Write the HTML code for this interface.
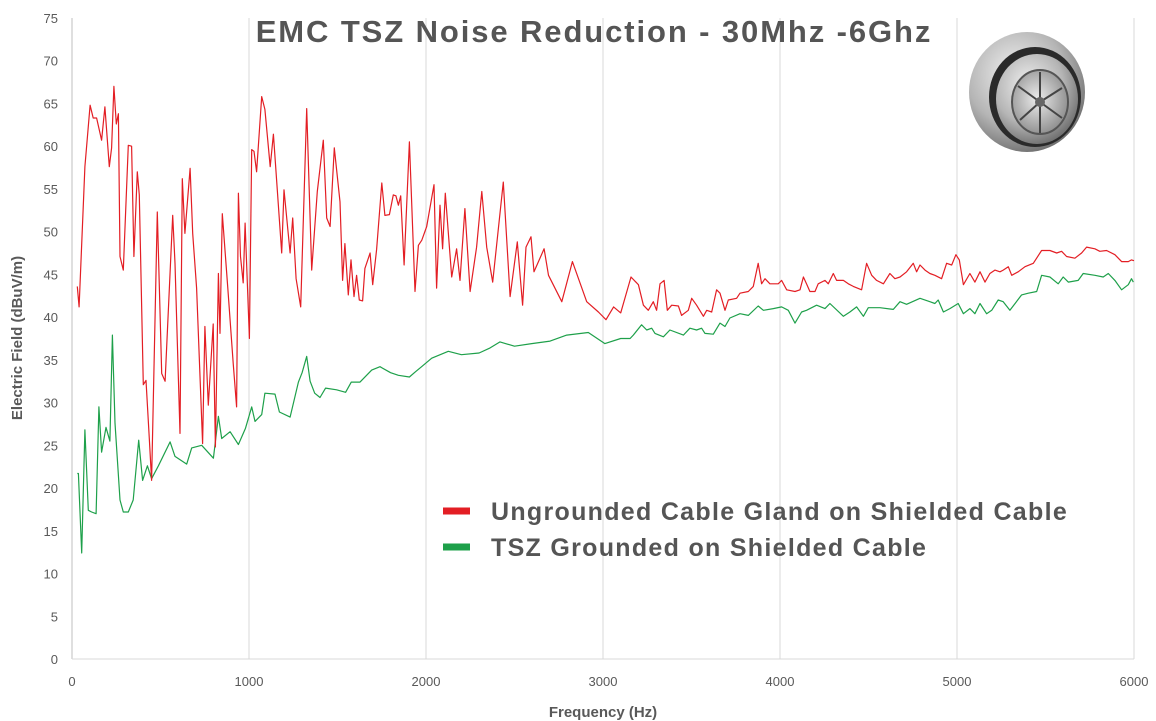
<!DOCTYPE html>
<html><head><meta charset="utf-8"><style>
body{margin:0;background:#fff;}
svg{display:block;font-family:"Liberation Sans",sans-serif;}
</style></head><body>
<svg id="chart" width="1156" height="721" viewBox="0 0 1156 721" xmlns="http://www.w3.org/2000/svg">
<defs>
<radialGradient id="metal" cx="40%" cy="35%" r="70%"><stop offset="0" stop-color="#f2f2f2"/><stop offset="0.6" stop-color="#b5b5b5"/><stop offset="1" stop-color="#6a6a6a"/></radialGradient>
<radialGradient id="inner" cx="45%" cy="45%" r="60%"><stop offset="0" stop-color="#ececec"/><stop offset="1" stop-color="#8a8a8a"/></radialGradient>
</defs>
<g id="grid"></g>
<g id="yticks"></g>
<g id="xticks"></g>
<g id="series"></g>
<text x="594" y="42" text-anchor="middle" font-size="31" font-weight="bold" fill="#555" letter-spacing="1.9">EMC TSZ Noise Reduction - 30Mhz -6Ghz</text>
<text transform="translate(22,338) rotate(-90)" text-anchor="middle" font-size="15" font-weight="bold" fill="#595959">Electric Field (dBuV/m)</text>
<text x="603" y="717" text-anchor="middle" font-size="15" font-weight="bold" fill="#595959">Frequency (Hz)</text>
<g>
<g>
<line x1="443" y1="511" x2="470" y2="511" stroke="#e31e24" stroke-width="7"/>
<text x="491" y="520" font-size="25" font-weight="bold" fill="#555" letter-spacing="1.3">Ungrounded Cable Gland on Shielded Cable</text></g>
<g>
<line x1="443" y1="547" x2="470" y2="547" stroke="#1ea04a" stroke-width="7"/>
<text x="491" y="556" font-size="25" font-weight="bold" fill="#555" letter-spacing="1.3">TSZ Grounded on Shielded Cable</text></g>
</g>
<g>
<ellipse cx="1027" cy="92" rx="58" ry="60" fill="url(#metal)"/>
<ellipse cx="1035" cy="97" rx="46" ry="50" fill="#2a2a2a"/>
<ellipse cx="1037" cy="99" rx="41" ry="45" fill="url(#metal)"/>
<ellipse cx="1040" cy="102" rx="28" ry="32" fill="url(#inner)" stroke="#555" stroke-width="2"/>
<g stroke="#444" stroke-width="2">
<line x1="1040" y1="102" x2="1040" y2="72"/><line x1="1040" y1="102" x2="1062" y2="88"/><line x1="1040" y1="102" x2="1062" y2="118"/><line x1="1040" y1="102" x2="1040" y2="133"/><line x1="1040" y1="102" x2="1020" y2="120"/><line x1="1040" y1="102" x2="1018" y2="86"/></g>
<circle cx="1040" cy="102" r="5" fill="#666"/>
</g>
</svg>
<script>
const yTicks=[0,5,10,15,20,25,30,35,40,45,50,55,60,65,70,75];
const xTicks=[0,1000,2000,3000,4000,5000,6000];
const redFreq=[30,40,73,102,120,139,167,186,211,224,237,250,262,271,290,318,337,350,369,380,403,418,437,450,482,507,526,569,582,610,623,638,667,682,704,738,751,770,798,810,827,836,849,880,911,930,940,952,967,978,1002,1015,1028,1043,1072,1090,1120,1138,1185,1198,1232,1247,1266,1292,1326,1354,1386,1420,1439,1458,1482,1514,1529,1542,1561,1576,1593,1608,1623,1642,1655,1684,1699,1721,1750,1768,1793,1815,1830,1844,1857,1876,1906,1938,1957,1976,2004,2045,2060,2079,2094,2109,2145,2173,2192,2220,2249,2286,2315,2343,2377,2437,2475,2516,2546,2565,2593,2610,2667,2692,2767,2827,2908,2974,3017,3060,3100,3158,3200,3228,3256,3284,3303,3322,3345,3363,3388,3426,3444,3482,3501,3529,3567,3586,3614,3642,3661,3689,3708,3755,3774,3821,3849,3877,3896,3915,3943,3990,4009,4038,4085,4113,4132,4150,4169,4198,4216,4254,4273,4301,4320,4358,4386,4414,4461,4489,4518,4546,4584,4621,4649,4678,4715,4753,4772,4791,4819,4847,4875,4913,4941,4970,4994,5013,5036,5073,5101,5130,5158,5186,5214,5243,5261,5290,5309,5346,5384,5431,5478,5525,5563,5591,5619,5666,5704,5732,5779,5807,5845,5892,5930,5968,5986,6000];
const redVals=[43.6,41.2,57.6,64.8,63.3,63.3,60.7,64.6,57.6,59.8,67,62.6,63.8,47.1,45.5,60.1,60,47.1,57,54.3,32.1,32.6,25.8,20.9,52.3,33.4,32.5,51.9,46.3,26.4,56.2,49.8,57.4,49.8,43.4,25.2,38.9,29.7,39.2,24.8,45.1,38.1,52.1,43.4,34.6,29.5,54.5,47.1,44,51,37.5,59.6,59.4,57,65.8,64.3,57.6,61.4,47.5,54.9,47.5,51.6,44.5,41.2,64.4,45.5,54.7,60.7,51.6,50.6,59.8,53.5,44.3,48.6,42.6,46.7,42.4,44.9,42,41.9,45.7,47.5,43.8,47.9,55.7,51.9,52,54.3,54.2,53.1,54.2,46.1,60.5,43,48.4,49,50.6,55.5,43.4,53.1,48,54.5,44.7,48,44.3,52.7,43,48.2,54.7,48.2,44.1,55.8,42.4,48.8,41.4,48.2,49.4,45.3,48,44.9,41.8,46.5,41.8,40.6,39.7,41.2,40.5,44.7,43.8,41.4,40.8,41.8,40.8,43.9,44.3,40.8,41.4,41.3,40.2,40.8,42.2,41.4,40.1,40.8,40.6,43.2,42.8,40.8,42,42.2,42.8,43,43.6,46.3,43.9,44.5,43.9,43.9,44.3,43.2,43,43.2,44.7,43.9,43,43,43.9,44.3,43.9,45.1,44.3,44.3,43.9,43.6,43.2,46.3,44.9,44.3,43.9,45.1,44.5,44.7,45.3,46.3,45.3,46.1,45.5,45.1,44.9,44.5,46.3,46.1,47.3,46.7,43.8,45.1,44.1,45.3,44.1,45.1,45.5,45.3,45.5,45.9,44.9,45.3,45.9,46.3,47.8,47.8,47.5,47.7,47.1,46.9,47.5,48.2,48,47.7,47.8,47.3,46.5,46.5,46.7,46.6];
const greenFreq=[30,36,55,73,92,111,136,152,167,192,214,228,243,271,290,318,346,377,399,426,450,488,554,582,648,676,733,799,827,846,893,940,980,1015,1034,1072,1090,1147,1172,1232,1279,1300,1326,1345,1371,1401,1433,1495,1546,1578,1627,1693,1740,1800,1844,1906,1940,1975,2032,2126,2200,2300,2362,2418,2500,2597,2701,2795,2917,3011,3100,3153,3171,3218,3247,3275,3294,3341,3378,3454,3491,3529,3557,3576,3623,3661,3689,3717,3774,3821,3877,3906,3962,4009,4047,4085,4122,4150,4207,4254,4282,4358,4395,4433,4471,4499,4565,4640,4678,4715,4791,4847,4875,4894,4923,4960,5007,5036,5073,5101,5130,5167,5196,5233,5261,5299,5365,5403,5450,5478,5525,5572,5600,5629,5685,5713,5779,5826,5855,5892,5930,5968,5986,5996];
const greenVals=[21.7,21.7,12.4,26.8,17.4,17.2,17,29.5,24.2,27.1,25.5,37.9,27.6,18.6,17.2,17.2,18.6,25.6,20.9,22.6,21.1,22.6,25.4,23.7,22.8,24.7,25,23.5,28.4,25.8,26.6,25.1,27,29.5,27.8,28.6,31.1,31,28.9,28.3,32.4,33.5,35.4,32.5,31.1,30.6,31.7,31.5,31.2,32.4,32.4,33.8,34.2,33.5,33.2,33,33.6,34.2,35.2,36,35.6,35.8,36.4,37.1,36.6,36.9,37.2,37.9,38.2,36.9,37.5,37.5,37.9,39.1,38.5,38.7,38.1,37.7,38.5,37.9,38.7,38.5,38.7,38.1,38,39.3,38.9,39.9,40.4,40.2,41.3,40.8,41,41.2,40.8,39.3,40.6,40.8,41.4,41,41.6,40.1,40.6,41.2,40.1,41.1,41.1,40.9,41.8,41.5,42.2,41.8,41.6,42,40.6,41,41.6,40.4,41,40.4,41.6,40.4,40.8,42,41.8,40.8,42.6,42.8,43,44.9,44.7,43.9,44.7,44.1,44.3,45.1,44.9,44.7,45.1,44.3,43.2,43.8,44.5,44.1];

const NS="http://www.w3.org/2000/svg";
const X0=72,X1=1134,Y0=659,Y1=18;
function xs(f){return X0+(f/6000)*(X1-X0);}
function ys(v){return Y0-(v/75)*(Y0-Y1);}
function mk(tag,attrs,parent){const e=document.createElementNS(NS,tag);for(const k in attrs)e.setAttribute(k,attrs[k]);parent.appendChild(e);return e;}
const grid=document.getElementById('grid'),yg=document.getElementById('yticks'),xg=document.getElementById('xticks'),sg=document.getElementById('series');
xTicks.forEach(t=>{
  if(t>0){const l=mk('line',{x1:xs(t),x2:xs(t),y1:Y1,y2:Y0,stroke:'#d9d9d9','stroke-width':1},grid);
  
  }
  const tx=mk('text',{x:xs(t),y:686,'text-anchor':'middle','font-size':13,fill:'#595959'},xg);
  tx.textContent=t;
  
  
});
const ax=mk('line',{x1:X0,x2:X0,y1:Y1,y2:Y0,stroke:'#bfbfbf','stroke-width':1},grid);


const bx=mk('line',{x1:X0,x2:X1,y1:Y0,y2:Y0,stroke:'#d9d9d9','stroke-width':1},grid);


yTicks.forEach(t=>{
  const tx=mk('text',{x:58,y:ys(t)+5,'text-anchor':'end','font-size':13,fill:'#595959'},yg);
  tx.textContent=t;
  
  
});
function line(fr,vals,color,name){
  const d=fr.map((f,i)=>(i?'L':'M')+xs(f).toFixed(1)+' '+ys(vals[i]).toFixed(1)).join(' ');
  const p=mk('path',{d:d,fill:'none',stroke:color,'stroke-width':1.2,'stroke-linejoin':'round'},sg);
  
  
}
line(greenFreq,greenVals,'#1ea04a','tsz-grounded-line');
line(redFreq,redVals,'#e31e24','ungrounded-line');
</script>
</body></html>
